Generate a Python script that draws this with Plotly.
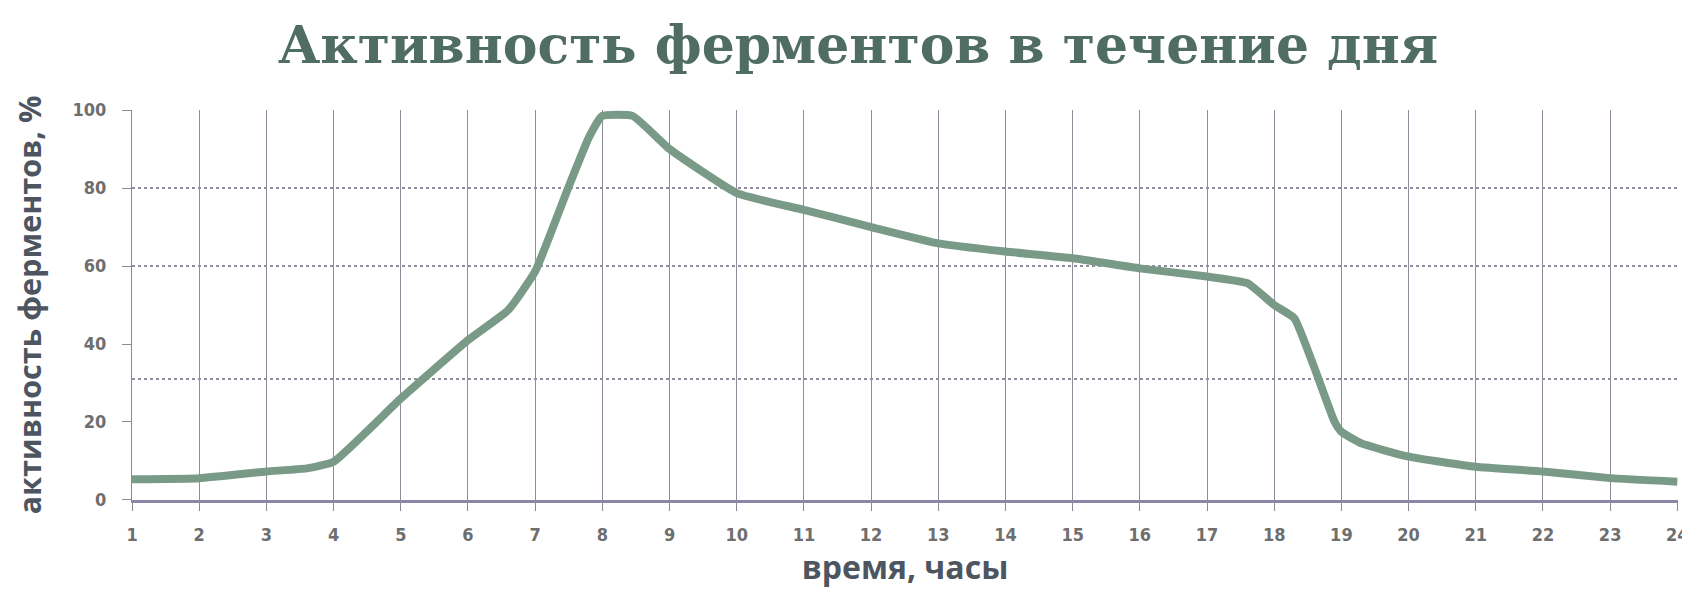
import plotly.graph_objects as go

# Data
hours = [1, 2, 3, 3.6, 4, 5, 6, 6.6, 7, 7.5, 7.8, 8, 8.45, 9, 10, 11, 12, 13, 14, 15,
         16, 17, 17.6, 18, 18.3, 18.6, 18.9, 19, 19.3, 20, 21, 22, 23, 24]
activity = [5.3, 5.6, 7.3, 8.1, 9.8, 26, 41, 48.7, 58.6, 80.4, 93, 98.5, 98.5, 90, 78.7,
            74.4, 70, 65.8, 63.7, 62, 59.4, 57.3, 55.6, 50, 46.6, 33.8, 20, 17.5, 14.5,
            11.1, 8.5, 7.3, 5.6, 4.7]
x_ticks = list(range(1, 25))
y_ticks = [0, 20, 40, 60, 80, 100]
h_grid_levels = [31, 60, 80, 100]

title_text = "Активность ферментов в течение дня"
x_title = "время, часы"
y_title = "активность ферментов, %"

fig = go.Figure()
fig.add_trace(go.Scatter(
    x=hours, y=activity, mode="lines",
    line=dict(color="#7a9a88", width=8, shape="spline", smoothing=0.4),
    cliponaxis=False, hoverinfo="skip", showlegend=False,
))
# empty trace so the labelled overlay axis is drawn
fig.add_trace(go.Scatter(x=[None], y=[None], yaxis="y2", showlegend=False, hoverinfo="skip"))

tick_font = dict(family="Liberation Sans Narrow, DejaVu Sans Condensed, sans-serif",
                 size=18, color="#6e6e6e", weight="bold")
y_title_font = dict(family="Open Sans, sans-serif", size=30.5, color="#4d5560", weight="bold")
x_title_font = dict(family="Open Sans, sans-serif", size=32, color="#4d5560", weight="bold")

eps = 0.0005
fig.update_layout(
    width=1690, height=590,
    margin=dict(l=122, r=9, t=102, b=98),
    paper_bgcolor="white", plot_bgcolor="white",
    title=dict(text=title_text, x=0.503, xanchor="center", y=1 - 37 / 590, yanchor="middle",
               yref="container",
               font=dict(family="DejaVu Serif, serif", size=52, color="#4f6d60", weight="bold")),
    xaxis=dict(
        range=[1 - eps, 24.01], tickvals=x_ticks, ticktext=[str(t) for t in x_ticks],
        showgrid=True, gridcolor="#8e8e9c", gridwidth=1,
        ticks="outside", ticklen=8, tickcolor="#8a8a96", tickwidth=1,
        showline=True, linecolor="#8a86a6", linewidth=3,
        zeroline=False, tickfont=tick_font, ticklabelstandoff=8,
        ticklabeloverflow="allow",
        title=dict(text=x_title, font=x_title_font, standoff=6),
    ),
    yaxis=dict(
        range=[-eps * 10, 100 + eps * 10],
        tickvals=h_grid_levels, showticklabels=False, ticks="",
        showgrid=True, gridcolor="#8e8e9c", gridwidth=1.5, griddash="dot",
        zeroline=False, showline=False,
    ),
    yaxis2=dict(
        range=[-eps * 10, 100 + eps * 10], overlaying="y", side="left",
        tickvals=y_ticks, ticktext=[str(t) for t in y_ticks],
        showgrid=False, zeroline=False,
        ticks="outside", ticklen=9, tickcolor="#8a8a96", tickwidth=1,
        showline=True, linecolor="#8a8a96", linewidth=1,
        tickfont=tick_font, ticklabelstandoff=12,
        title=dict(text=y_title, font=y_title_font, standoff=34),
    ),
)

fig.write_html("out.html")
